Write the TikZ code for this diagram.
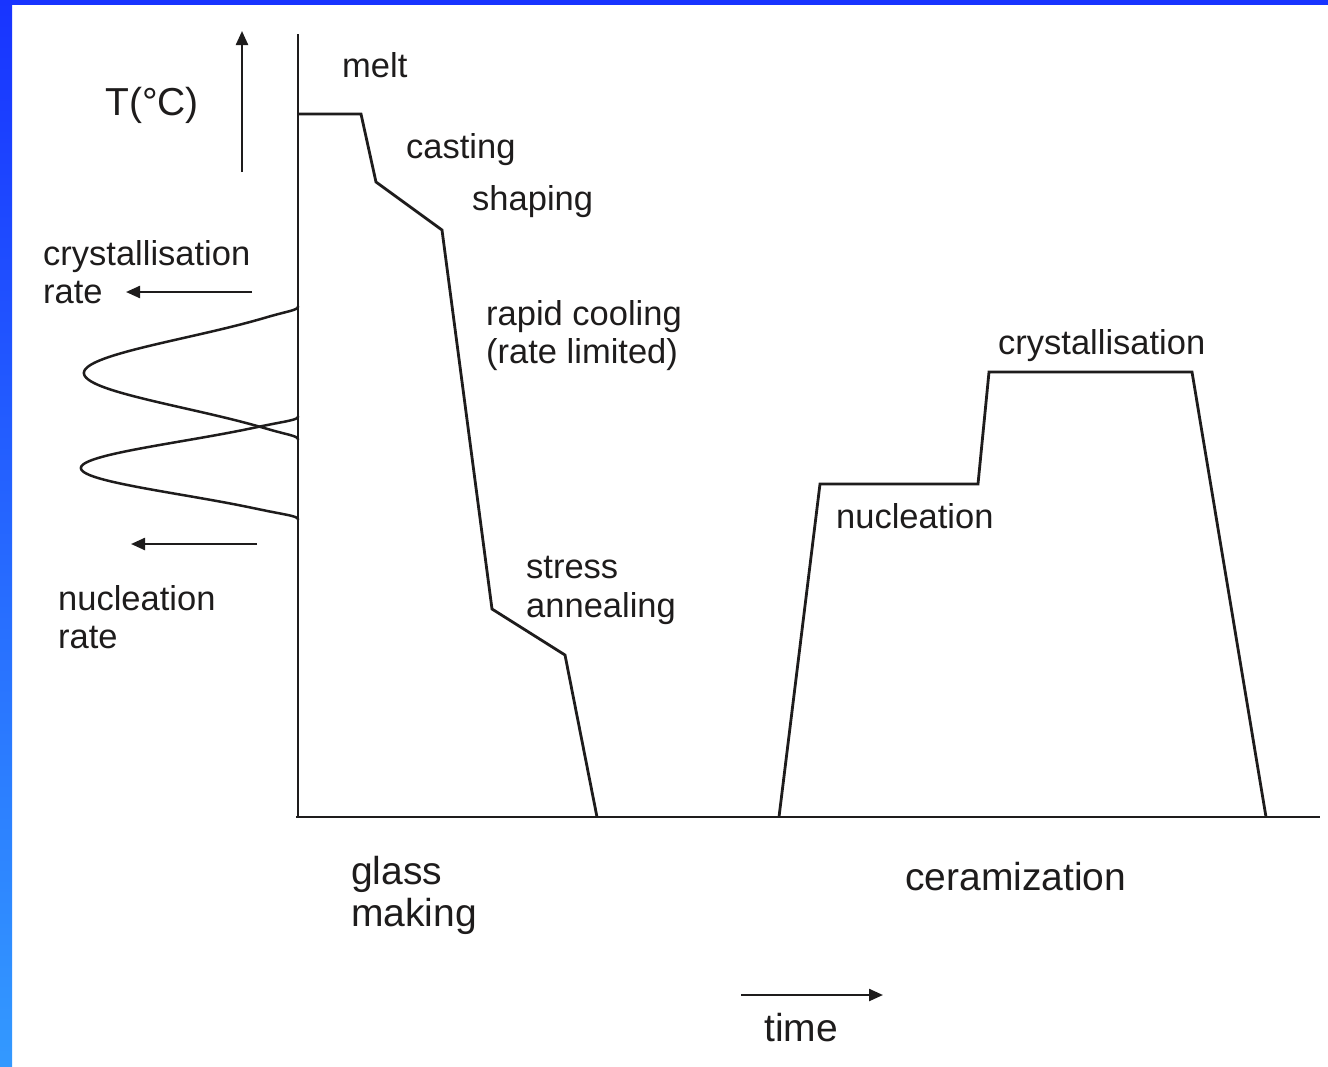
\documentclass[tikz,border=0pt]{standalone}
\usepackage{fontspec}
\setmainfont{Liberation Sans}
\usetikzlibrary{arrows.meta}
\definecolor{ink}{RGB}{30,28,28}
\definecolor{bluetop}{RGB}{24,52,255}
\definecolor{bluebot}{RGB}{51,153,255}
\begin{document}
\begin{tikzpicture}[x=1pt,y=-1pt,
  lbl/.style={anchor=base west, inner sep=0pt, font=\fontsize{34.5}{40}\selectfont, text=ink},
  biglbl/.style={lbl, font=\fontsize{39}{46}\selectfont},
  curve/.style={draw=ink, line width=2.8pt, line join=miter},
  bell/.style={draw=ink, line width=2.5pt},
  arr/.style={draw=ink, line width=2.3pt, -{Triangle[length=14pt,width=12pt]}}]
\useasboundingbox (0,0) rectangle (1328,1066);
\fill[white] (0,0) rectangle (1328,1066);
\shade[top color=bluetop, bottom color=bluebot] (0,0) rectangle (12,1066);
\fill[bluetop] (0,0) rectangle (1328,5);

% axes
\coordinate (yaxtop) at (298,34);
\coordinate (origin) at (298,817);
\coordinate (xaxstart) at (296,817);
\coordinate (xaxend) at (1320,817);
\draw[curve] (yaxtop) -- (origin);
\draw[curve] (xaxstart) -- (xaxend);

% glass making profile
\coordinate (g0) at (298,114);
\coordinate (g1) at (361,114);
\coordinate (g2) at (376,182);
\coordinate (g3) at (442,230);
\coordinate (g4) at (492,609);
\coordinate (g5) at (565,655);
\coordinate (g6) at (597,817);
\draw[curve] (g0) -- (g1) -- (g2) -- (g3) -- (g4) -- (g5) -- (g6);

% ceramization profile
\coordinate (c0) at (779,817);
\coordinate (c1) at (820,484);
\coordinate (c2) at (978,484);
\coordinate (c3) at (989,372);
\coordinate (c4) at (1192,372);
\coordinate (c5) at (1266,817);
\draw[curve] (c0) -- (c1) -- (c2) -- (c3) -- (c4) -- (c5);

% rate curves
\draw[bell] plot[domain=-67:67, samples=301, smooth]
  ({298-214*(exp(-(\x*\x)/2500)-0.166)/0.834*(1-exp(-((67-abs(\x))/5)*((67-abs(\x))/5)))}, {373+\x});
\draw[bell] plot[domain=-52:52, samples=261, smooth]
  ({298-217*(exp(-(\x*\x)/1444)-0.1537)/0.8463*(1-exp(-((52-abs(\x))/5)*((52-abs(\x))/5)))}, {468+\x});

% arrows
\coordinate (Ta) at (242,172);
\coordinate (Tb) at (242,31);
\draw[arr] (Ta) -- (Tb);
\coordinate (cra) at (252,292);
\coordinate (crb) at (126,292);
\draw[arr] (cra) -- (crb);
\coordinate (nra) at (257,544);
\coordinate (nrb) at (131,544);
\draw[arr] (nra) -- (nrb);
\coordinate (ta) at (741,995);
\coordinate (tb) at (883,995);
\draw[arr] (ta) -- (tb);

% labels
\node[biglbl] (T) at (105,115) {T(°C)};
\node[lbl] (melt) at (342,77) {melt};
\node[lbl] (cast) at (406,158) {casting};
\node[lbl] (shape) at (472,210) {shaping};
\node[lbl] (cr1) at (43,265) {crystallisation};
\node[lbl] (cr2) at (43,303) {rate};
\node[lbl] (rc1) at (486,325) {rapid cooling};
\node[lbl] (rc2) at (486,363) {(rate limited)};
\node[lbl] (cryst) at (998,354) {crystallisation};
\node[lbl] (nuc) at (836,528) {nucleation};
\node[lbl] (st1) at (526,578) {stress};
\node[lbl] (st2) at (526,617) {annealing};
\node[lbl] (nr1) at (58,610) {nucleation};
\node[lbl] (nr2) at (58,648) {rate};
\node[biglbl] (gm1) at (351,884) {glass};
\node[biglbl] (gm2) at (351,926) {making};
\node[biglbl] (cer) at (905,890) {ceramization};
\node[biglbl] (time) at (764,1041) {time};
\end{tikzpicture}
\end{document}
